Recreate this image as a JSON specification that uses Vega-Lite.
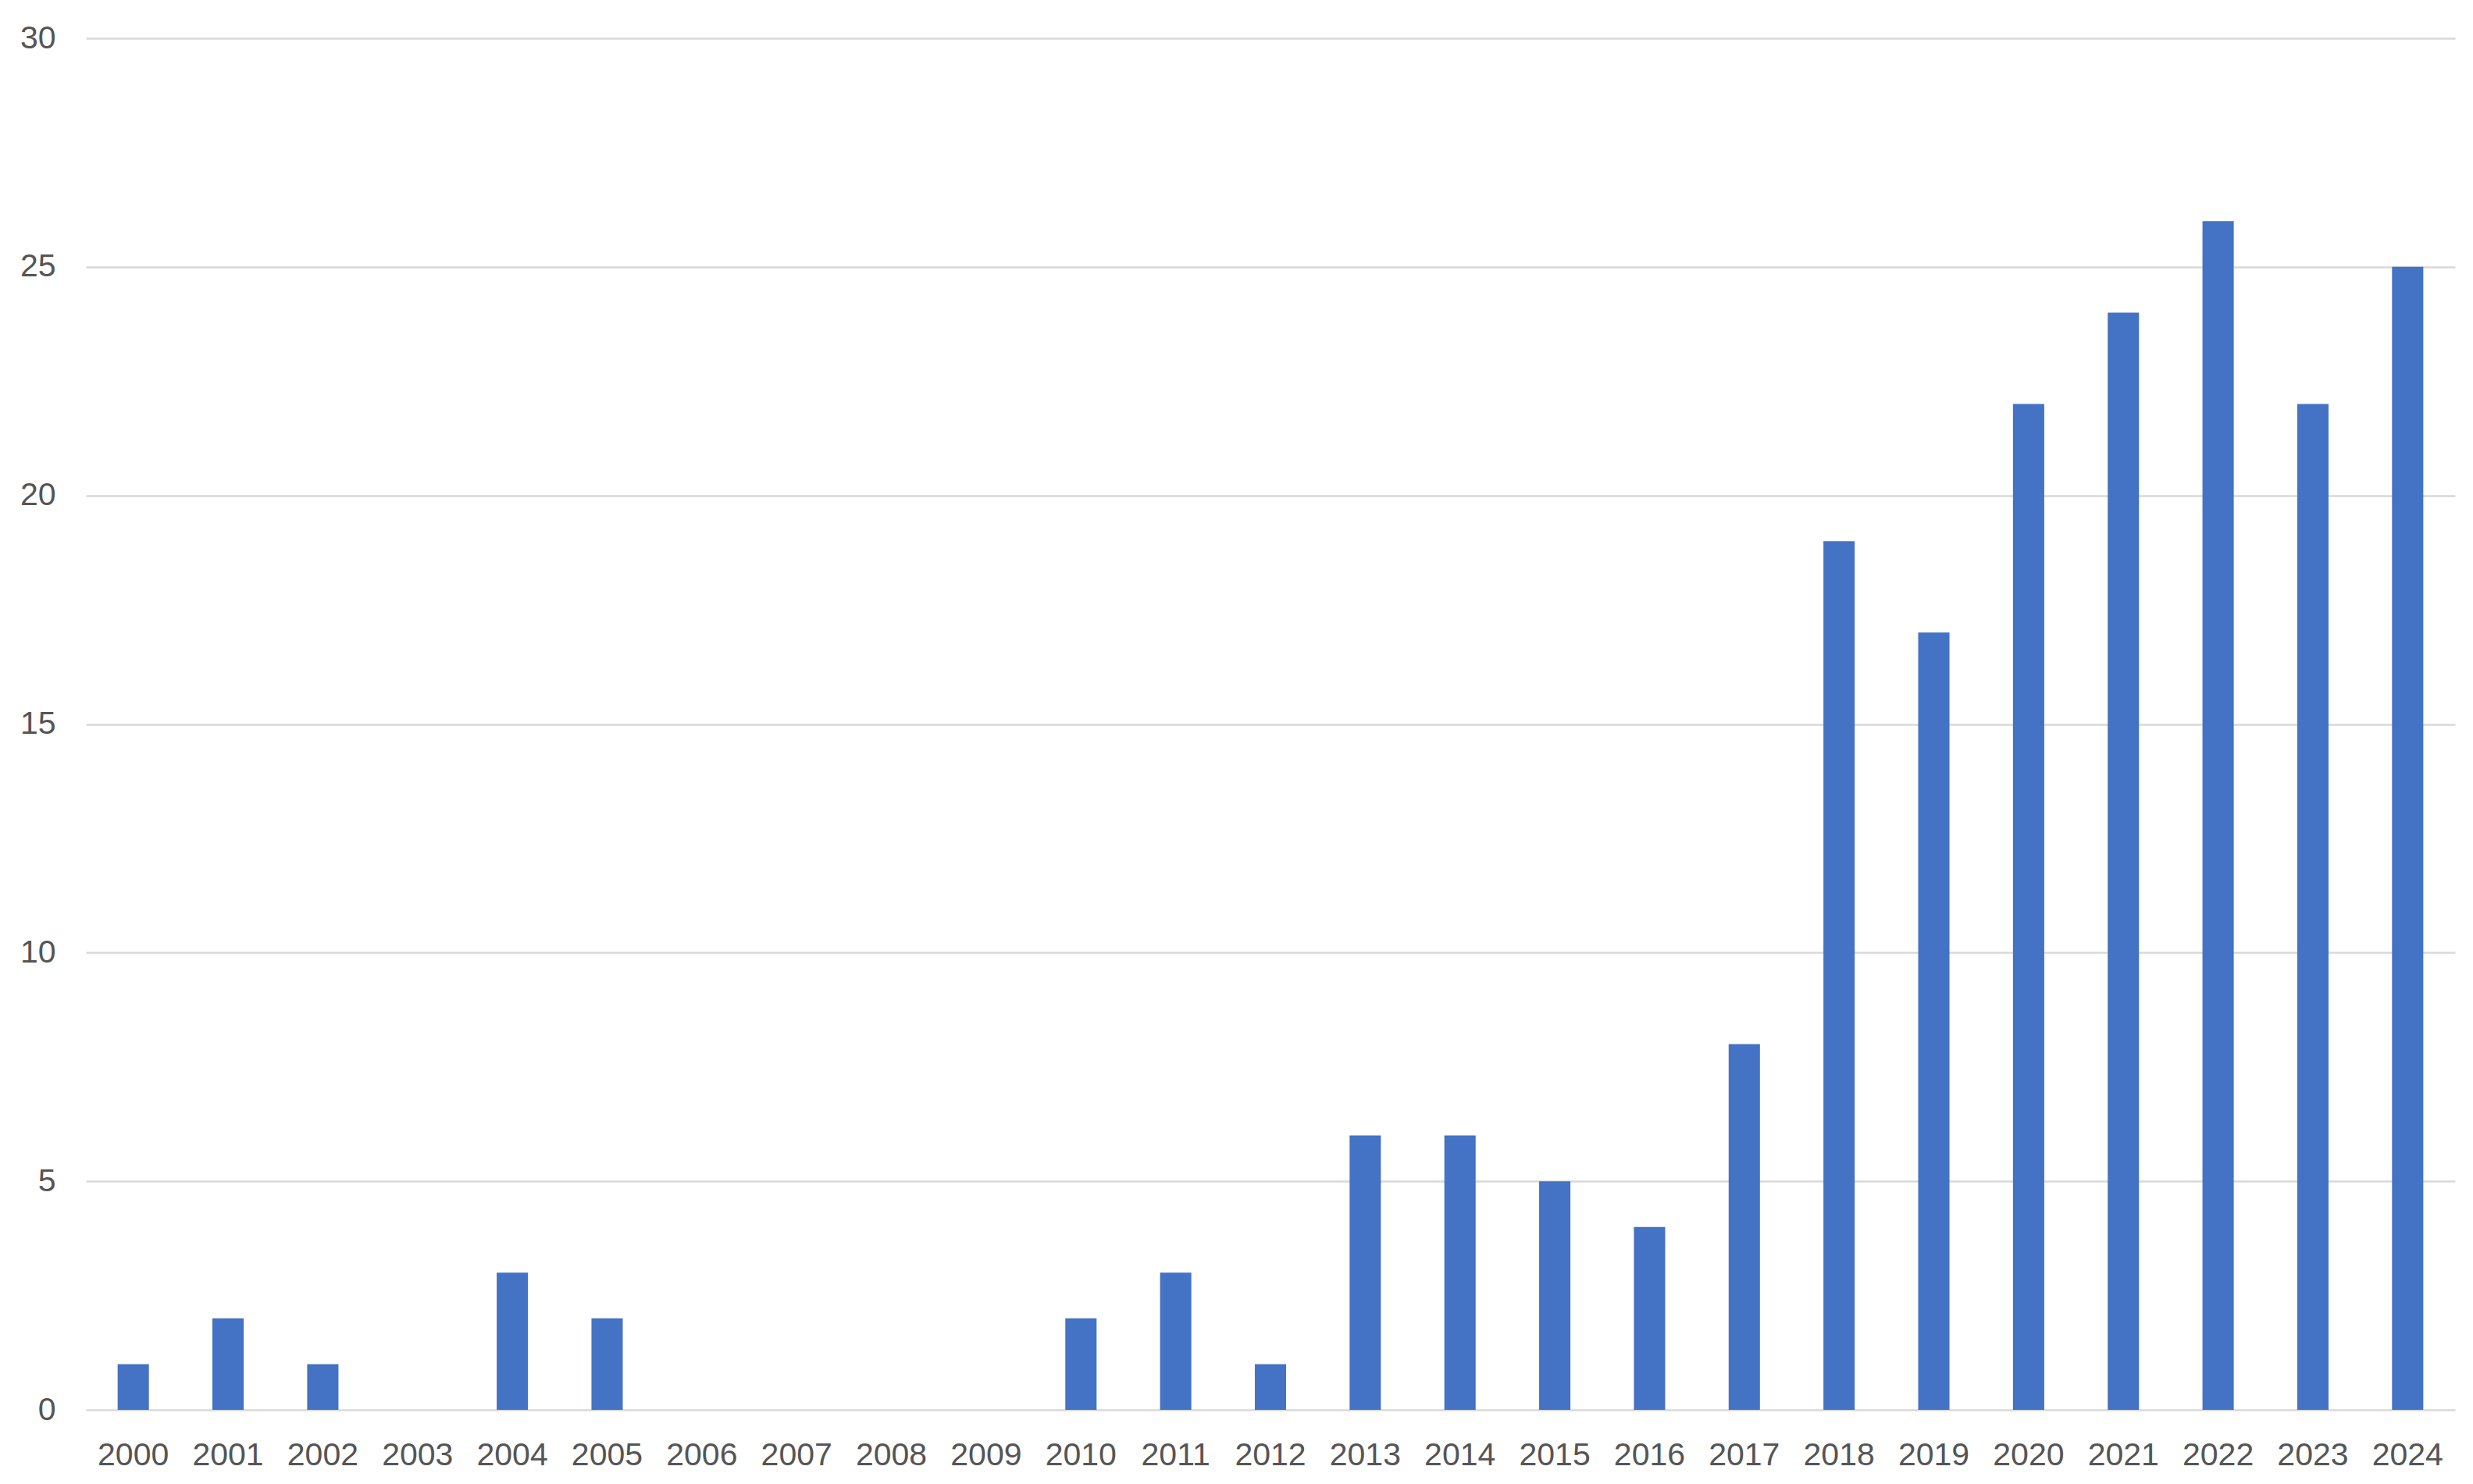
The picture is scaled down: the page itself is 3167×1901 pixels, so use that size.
{
  "$schema": "https://vega.github.io/schema/vega-lite/v6.json",
  "autosize": "none",
  "padding": {"left": 110, "top": 49, "right": 23, "bottom": 95},
  "width": 3034,
  "height": 1757,
  "background": "white",
  "config": {
    "view": {"stroke": null},
    "font": "Liberation Sans"
  },
  "data": {
    "values": [
      {"year": "2000", "count": 1},
      {"year": "2001", "count": 2},
      {"year": "2002", "count": 1},
      {"year": "2003", "count": 0},
      {"year": "2004", "count": 3},
      {"year": "2005", "count": 2},
      {"year": "2006", "count": 0},
      {"year": "2007", "count": 0},
      {"year": "2008", "count": 0},
      {"year": "2009", "count": 0},
      {"year": "2010", "count": 2},
      {"year": "2011", "count": 3},
      {"year": "2012", "count": 1},
      {"year": "2013", "count": 6},
      {"year": "2014", "count": 6},
      {"year": "2015", "count": 5},
      {"year": "2016", "count": 4},
      {"year": "2017", "count": 8},
      {"year": "2018", "count": 19},
      {"year": "2019", "count": 17},
      {"year": "2020", "count": 22},
      {"year": "2021", "count": 24},
      {"year": "2022", "count": 26},
      {"year": "2023", "count": 22},
      {"year": "2024", "count": 25}
    ]
  },
  "mark": {"type": "bar", "color": "#4472C4"},
  "encoding": {
    "x": {
      "field": "year",
      "type": "ordinal",
      "scale": {"paddingInner": 0.67, "paddingOuter": 0.335},
      "axis": {
        "title": null,
        "labelAngle": 0,
        "domain": false,
        "ticks": false,
        "tickSize": 0,
        "labelPadding": 38,
        "labelFontSize": 41,
        "labelColor": "#555555",
        "labelFont": "Liberation Sans"
      }
    },
    "y": {
      "field": "count",
      "type": "quantitative",
      "scale": {"domain": [0, 30], "nice": false},
      "axis": {
        "title": null,
        "values": [0, 5, 10, 15, 20, 25, 30],
        "domain": false,
        "ticks": false,
        "tickSize": 0,
        "labelPadding": 39,
        "labelFontSize": 41,
        "labelColor": "#555555",
        "labelFont": "Liberation Sans",
        "gridColor": "#d9d9d9",
        "gridWidth": 2.5
      }
    }
  }
}
